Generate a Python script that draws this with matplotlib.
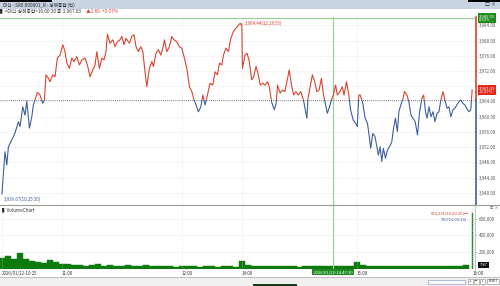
import matplotlib
matplotlib.use('Agg')
import matplotlib.pyplot as plt
import matplotlib.transforms as mtransforms
from matplotlib.patches import Rectangle
import numpy as np

plt.rcParams['font.family'] = ['Noto Sans CJK KR', 'DejaVu Sans']

# tick prices, x = trading minutes after 10:30 (12:30-14:00 lunch removed)
minutes = [0, 0.65, 1.5, 2.4, 3.2, 4.9, 6.5, 8.2, 9.0, 10.4, 11.5, 12.4, 13.7, 14.9, 15.7, 16.5,
           17.7, 19.0, 20.4, 21.2, 22.0, 23.2, 24.0, 25.4, 26.5, 27.7, 29.0, 30.4, 31.5, 32.4,
           33.7, 34.9, 36.0, 37.4, 38.7, 39.9, 41.5, 42.7, 44.0, 45.4, 46.5, 47.4, 48.7, 49.9,
           51.0, 52.0, 52.7, 54.0, 55.4, 56.5, 57.7, 59.0, 59.9, 61.0, 62.0, 63.7, 64.9, 66.0,
           67.0, 68.2, 69.4, 70.4, 71.5, 72.4, 73.7, 74.9, 75.7, 77.0, 78.2, 79.4, 80.4, 81.2,
           82.4, 83.7, 84.9, 86.0, 87.4, 88.7, 89.9, 91.0, 92.4, 93.7, 94.9, 96.0, 97.0, 98.2,
           99.4, 100.4, 101.5, 102.7, 104.0, 105.4, 106.5, 107.7, 108.7, 109.9, 110.7, 112.0,
           113.2, 114.4, 115.7, 117.0, 118.9, 119.9,
           120.2, 121.6, 122.6, 123.8, 125.0, 126.1, 127.3, 128.5, 129.5, 130.8, 131.9, 133.3,
           134.2, 135.4, 136.8, 137.8, 138.5, 139.9, 141.1, 142.3, 143.4, 144.6, 145.8, 146.9,
           148.1, 149.3, 150.6, 152.0, 152.7, 153.8, 154.4, 155.5, 156.7, 157.9, 159.0, 160.2,
           161.4, 162.5, 163.6, 164.5, 165.6, 166.6, 167.6, 168.8, 169.7, 171.1, 172.3, 173.2,
           174.5, 175.7, 176.6, 178.0, 179.2, 180.1, 180.9, 181.6, 183.0, 184.2, 185.4, 186.4,
           187.1, 188.2, 189.4, 190.3, 191.1, 192.0, 192.9, 193.7, 194.8, 195.8, 196.9, 198.1,
           199.0, 200.0, 201.0, 201.8, 202.8, 203.8, 204.7, 206.0, 207.0, 208.1, 209.1, 210.3,
           211.5, 212.6, 213.8, 214.7, 215.7, 216.5, 217.5, 218.5, 219.6, 220.6, 221.7, 222.7,
           223.7, 224.8, 225.8, 226.9, 227.9, 228.9, 230.0, 231.0, 232.0, 233.1, 234.1, 235.2,
           236.2, 237.2, 238.3, 239.3, 240.0]
prices = [3939.7, 3944.7, 3950.8, 3947.3, 3952.1, 3953.9, 3955.7, 3958.7, 3957.4, 3962.6, 3960.4,
          3964.1, 3957.0, 3960.0, 3963.1, 3964.4, 3966.4, 3965.7, 3963.5, 3964.4, 3971.0, 3970.1,
          3969.2, 3971.0, 3970.5, 3975.4, 3976.2, 3978.9, 3977.1, 3974.1, 3972.7, 3975.4, 3974.5,
          3975.8, 3973.6, 3974.9, 3975.4, 3973.6, 3970.5, 3972.3, 3973.6, 3977.1, 3972.7, 3975.4,
          3974.9, 3977.1, 3981.7, 3979.3, 3980.2, 3978.4, 3979.7, 3980.2, 3981.1, 3978.9, 3980.6,
          3979.3, 3981.1, 3981.5, 3978.4, 3977.1, 3978.4, 3977.1, 3971.8, 3967.9, 3972.7, 3974.5,
          3973.2, 3976.7, 3977.6, 3976.2, 3978.0, 3980.2, 3977.1, 3978.4, 3981.1, 3980.2, 3979.7,
          3978.4, 3978.0, 3975.8, 3972.7, 3967.9, 3966.6, 3964.4, 3963.1, 3961.3, 3962.6, 3965.7,
          3963.1, 3965.7, 3968.8, 3968.3, 3971.8, 3971.0, 3974.1, 3973.6, 3976.2, 3978.0, 3977.1,
          3980.6, 3982.4, 3983.3, 3984.44, 3984.1,
          3972.7, 3976.2, 3976.7, 3974.5, 3969.7, 3970.5, 3973.2, 3971.0, 3968.3, 3968.8, 3968.3,
          3969.2, 3967.9, 3963.9, 3961.8, 3963.5, 3968.3, 3966.2, 3967.0, 3966.6, 3969.2, 3972.3,
          3968.3, 3965.7, 3966.6, 3965.7, 3966.6, 3964.4, 3962.6, 3959.6, 3964.8, 3967.9, 3971.0,
          3969.2, 3966.6, 3967.0, 3970.1, 3965.7, 3963.1, 3960.9, 3962.6, 3964.4, 3965.7, 3968.3,
          3965.7, 3966.6, 3967.9, 3965.7, 3969.2, 3965.7, 3961.8, 3959.1, 3958.3, 3957.4, 3965.7,
          3965.7, 3963.5, 3959.6, 3958.3, 3954.7, 3951.7, 3955.6, 3954.7, 3952.1, 3949.9, 3952.1,
          3948.2, 3951.7, 3949.1, 3951.2, 3952.1, 3953.4, 3956.9, 3959.6, 3956.1, 3961.3, 3963.1,
          3964.4, 3966.6, 3965.7, 3963.9, 3960.4, 3959.6, 3958.7, 3955.2, 3961.3, 3964.8, 3965.7,
          3961.3, 3959.6, 3962.6, 3960.0, 3961.3, 3958.7, 3960.9, 3961.3, 3964.4, 3966.6, 3964.4,
          3962.2, 3962.6, 3960.0, 3961.8, 3962.2, 3963.1, 3963.9, 3964.4, 3963.5, 3963.1, 3962.2,
          3961.3, 3961.8, 3967.03]
prev_close = 3964.37
last_price = 3967.03
max_price, max_time = 3984.44, 118.9
min_price, min_time = 3939.67, 0
cross_time = 167.5          # 14:47:30
cross_price = 3985.97

# volume per 3 minutes (thousand shares), last bar is the closing auction
vol_minutes = list(range(0, 240, 3)) + [240]
vol_k = [130, 150, 120, 190, 110, 95, 80, 70, 105, 75, 55, 50, 40, 45, 35, 38, 50, 35, 40, 30,
         32, 45, 30, 35, 40, 28, 30, 25, 30, 22, 25, 35, 30, 22, 25, 28, 20, 25, 30, 22,
         85, 40, 30, 28, 25, 30, 35, 25, 28, 30, 22, 25, 30, 28, 25, 30, 35, 28, 30, 25,
         80, 45, 35, 30, 28, 25, 30, 35, 28, 25, 30, 28, 25, 30, 32, 28, 30, 35, 30, 40,
         674.261]

x_ticks = [0, 30, 90, 120, 180, 240]
x_labels = ['2026/01/22-10:25', '11:00', '12:00', '14:00', '15:00', '16:00']
y_ticks = [3940, 3944, 3948, 3952, 3956, 3960, 3964, 3968, 3972, 3976, 3980, 3984]
vol_ticks = [200000, 400000, 600000]

red = '#d8432f'
blue = '#3e5f9c'
vgreen = '#0d7a0d'
cgreen = '#9ccf9c'
txt = '#555555'


def fx(p):
    return p / 500.0


def fy(p):
    return 1 - p / 286.0


def fwd(m):
    m = np.asarray(m, float)
    return np.where(m <= 120, 2.0 * m, 240 + (m - 120) * 1.917)


def inv(u):
    u = np.asarray(u, float)
    return np.where(u <= 240, u / 2.0, 120 + (u - 240) / 1.917)


fig = plt.figure(figsize=(5, 2.86), dpi=100)

# ---- window chrome ----
fig.patches.append(Rectangle((0, fy(8.5)), 1, 8.5 / 286, transform=fig.transFigure,
                             facecolor='#c9d4e2', edgecolor='none'))
fig.patches.append(Rectangle((0, fy(1.5)), fx(52), 1.5 / 286, transform=fig.transFigure,
                             facecolor='black', edgecolor='none'))
fig.patches.append(Rectangle((fx(468), fy(1.5)), fx(32), 1.5 / 286, transform=fig.transFigure,
                             facecolor='black', edgecolor='none'))
fig.text(fx(3), fy(5), '대신 - SR0:000001_R - 상해종합 (틱)', fontsize=3.3, color='#222222', va='center')
fig.text(fx(485), fy(4.8), '□ ×', fontsize=3.5, color='#222222', va='center')

fig.text(fx(0.5), fy(11.5), '▌<대신-상해종합>16:00:30 종:3,967.03 ', fontsize=3.4,
         color='#333333', va='center')
fig.text(fx(86), fy(11.5), '▲2.66  +0.07%', fontsize=3.4, color=red, va='center')

# ---- price panel ----
ax = fig.add_axes([0, fy(205), fx(475), 188 / 286])
ax.set_xscale('function', functions=(fwd, inv))
ax.set_xlim(-1, 241.5)
ax.set_ylim(3936.8, 3986.2)
blend = mtransforms.blended_transform_factory(ax.transAxes, ax.transData)

ax.set_yticks(y_ticks)
# the 3,968 label sits under the current-price box
ax.set_yticklabels(['' if v == 3968 else '{:,.2f}'.format(v) for v in y_ticks])
ax.yaxis.tick_right()
ax.tick_params(axis='y', labelsize=3.2, labelcolor=txt, length=1.5, width=0.4, color='#999999', pad=1.5)
ax.set_xticks(x_ticks[1:-1])
ax.tick_params(axis='x', length=0, labelbottom=False)
ax.grid(True, color='#d2d2d2', lw=0.5, ls=(0, (1, 2)))
for s in ax.spines.values():
    s.set_visible(False)

ax.axhline(prev_close, color='#555555', lw=0.6, ls=(0, (1, 1.5)))
ax.axhline(cross_price, color=cgreen, lw=0.9)
ax.axvline(cross_time, color=cgreen, lw=0.9)

up_clip = Rectangle((0, prev_close), 1, 100, transform=blend)
dn_clip = Rectangle((0, prev_close - 100), 1, 100, transform=blend)
l1, = ax.plot(minutes, prices, color=red, lw=0.8)
l1.set_clip_path(up_clip)
l2, = ax.plot(minutes, prices, color=blue, lw=0.8)
l2.set_clip_path(dn_clip)

# coloured right axis line
ax.plot([1.003, 1.003], [prev_close, 3986.2], color=red, lw=1.2, transform=blend, clip_on=False)
ax.plot([1.003, 1.003], [3936.8, prev_close], color=blue, lw=1.2, transform=blend, clip_on=False)

ax.annotate('3,984.44(12:28:55)', xy=(max_time, max_price), xytext=(5, 0),
            textcoords='offset pixels', fontsize=3.2, color=red, va='center',
            arrowprops=dict(arrowstyle='-', color=red, lw=0.5, shrinkA=0, shrinkB=0))
ax.annotate('3,939.67(10:25:30)', xy=(min_time, 3938.3), xytext=(2, 0),
            textcoords='offset pixels', fontsize=3.2, color=blue, va='center')

ax.text(1.008, last_price, '3,967.03\n+0.07%', transform=blend, fontsize=3.0, color='white',
        va='center', ha='left', linespacing=0.9, zorder=10,
        bbox=dict(boxstyle='square,pad=0.25', facecolor='#e2281b', edgecolor='none'))
ax.text(1.008, cross_price, '3,985.55\n0.53%', transform=blend, fontsize=3.0, color='white',
        va='center', ha='left', linespacing=0.9, zorder=10,
        bbox=dict(boxstyle='square,pad=0.25', facecolor='#1f8c1f', edgecolor='none'))

# ---- volume panel ----
fig.add_artist(plt.Line2D([0, 1], [fy(204.5), fy(204.5)], color='#9a9a9a', lw=0.8))
vax = fig.add_axes([0, fy(268.5), fx(475), 62.5 / 286])
vax.set_xscale('function', functions=(fwd, inv))
vax.set_xlim(-1, 241.5)
vax.set_ylim(0, 757000)
bar_w = [3] * (len(vol_k) - 1) + [0.6]
vax.bar(vol_minutes, [v * 1000 for v in vol_k], width=bar_w, color=vgreen, edgecolor=vgreen, lw=0.3)
vax.set_yticks(vol_ticks)
vax.set_yticklabels(['{:,}'.format(v) for v in vol_ticks])
vax.yaxis.tick_right()
vax.tick_params(axis='y', labelsize=3.2, labelcolor=txt, length=1.5, width=0.4, color='#999999', pad=1.5)
vax.set_xticks(x_ticks)
vax.set_xticklabels(x_labels, ha='left')
vax.tick_params(axis='x', labelsize=3.2, labelcolor='#333333', length=0, pad=1.5)
vax.grid(True, color='#d2d2d2', lw=0.5, ls=(0, (1, 2)))
for s in vax.spines.values():
    s.set_visible(False)
vax.spines['right'].set_visible(True)
vax.spines['right'].set_color('#aaaaaa')
vax.spines['right'].set_linewidth(0.5)
vax.spines['right'].set_linestyle((0, (1, 1)))
vax.axvline(cross_time, color=cgreen, lw=0.9)

vax.text(0.004, 0.93, '▌VolumeChart', transform=vax.transAxes, fontsize=3.3, color='#333333', va='center')
vax.annotate('674,261(16:00:25)→', xy=(239, 674261), xytext=(-1, 0), textcoords='offset pixels',
             fontsize=3.0, color=red, ha='right', va='center')
vax.annotate('787(16:00:30)', xy=(239, 600000), xytext=(-3, 0), textcoords='offset pixels',
             fontsize=3.0, color=blue, ha='right', va='center')
vblend = mtransforms.blended_transform_factory(vax.transAxes, vax.transData)
vax.text(1.008, 40000, ' 787 ', transform=vblend, fontsize=3.0, color='white', va='center',
         ha='left', bbox=dict(boxstyle='square,pad=0.2', facecolor='#111111', edgecolor='none'))
xblend = mtransforms.blended_transform_factory(vax.transData, vax.transAxes)
vax.text(cross_time, -0.025, '2026/01/22-14:47:30', transform=xblend, fontsize=3.0, color='white',
         va='top', ha='center', bbox=dict(boxstyle='square,pad=0.3', facecolor='#1f8c1f', edgecolor='none'))
fig.text(fx(490), fy(208), '⊡ ×', fontsize=3.0, color='#444444', va='center')

# ---- scroll bar ----
fig.add_artist(plt.Line2D([0, 1], [fy(277), fy(277)], color='#b5b5b5', lw=0.6))
fig.patches.append(Rectangle((0, 0), 1, fy(277.3), transform=fig.transFigure,
                             facecolor='#efefef', edgecolor='none'))
fig.patches.append(Rectangle((fx(428), fy(283.5)), fx(37), 4 / 286, transform=fig.transFigure,
                             facecolor='#f8f8f8', edgecolor='#8fa6c8', lw=0.5))
for i, s in enumerate(['+', '−', '+']):
    x0 = 468 + i * 6
    fig.patches.append(Rectangle((fx(x0), fy(284)), fx(5), 5 / 286, transform=fig.transFigure,
                                 facecolor='white', edgecolor='#888888', lw=0.4))
    fig.text(fx(x0 + 2.5), fy(281.5), s, fontsize=3, ha='center', va='center', color='#222222')
fig.patches.append(Rectangle((fx(487), fy(284)), fx(12), 5 / 286, transform=fig.transFigure,
                             facecolor='white', edgecolor='#888888', lw=0.4))
fig.text(fx(493), fy(281.5), 'RESET', fontsize=2.2, ha='center', va='center', color='#222222')
fig.patches.append(Rectangle((fx(253), 0), fx(44), 2 / 286, transform=fig.transFigure,
                             facecolor='#183a18', edgecolor='none'))

fig.savefig('out.png', dpi=100, facecolor='white')
